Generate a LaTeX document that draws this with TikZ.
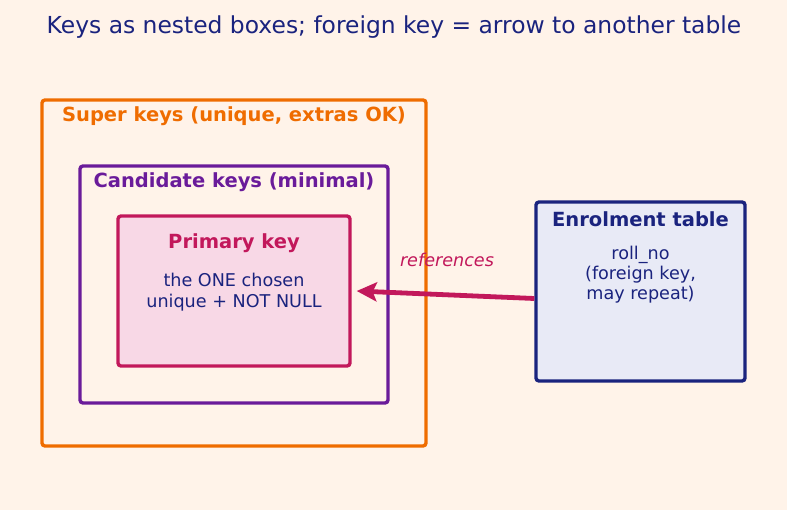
\documentclass[tikz,border=0pt]{standalone}
\usepackage{fontspec}
\setmainfont{DejaVu Sans}
\usetikzlibrary{arrows.meta,calc}
\definecolor{bg}{HTML}{FFF3E9}
\definecolor{orng}{HTML}{EF6C00}
\definecolor{purp}{HTML}{6A1B9A}
\definecolor{crim}{HTML}{C2185B}
\definecolor{navy}{HTML}{1A237E}
\definecolor{pinkfill}{HTML}{F8D8E6}
\definecolor{bluefill}{HTML}{E8EAF6}
\tikzset{
  keybox/.style={draw, line width=3.4pt, rounded corners=3pt, inner sep=0pt},
  boldlbl/.style={font=\fontsize{19.5}{23}\selectfont\bfseries, anchor=base, inner sep=0pt},
  bodytxt/.style={font=\fontsize{17.6}{20}\selectfont, text=navy, anchor=base, inner sep=0pt},
}
\begin{document}
\begin{tikzpicture}[x=1pt,y=-1pt]
\useasboundingbox[fill=bg] (0,0) rectangle (787,510);
\node[font=\fontsize{23.4}{27}\selectfont, text=navy, anchor=base, inner sep=0pt] (title) at (394,33.5) {Keys as nested boxes; foreign key = arrow to another table};

\node[keybox, draw=orng, minimum width=384pt, minimum height=346pt] (super) at (234,273) {};
\node[keybox, draw=purp, minimum width=308pt, minimum height=237pt] (cand) at (234,284.5) {};
\node[keybox, draw=crim, fill=pinkfill, minimum width=232pt, minimum height=150pt] (prim) at (234,291) {};
\node[keybox, draw=navy, fill=bluefill, minimum width=209pt, minimum height=179pt] (enrol) at (640.5,291.5) {};

\node[boldlbl, text=orng] (superlbl) at (234,121.5) {Super keys (unique, extras OK)};
\node[boldlbl, text=purp] (candlbl) at (234,187.5) {Candidate keys (minimal)};
\node[boldlbl, text=crim] (primlbl) at (234,248.5) {Primary key};
\node[bodytxt] (prim1) at (234,287) {the ONE chosen};
\node[bodytxt] (prim2) at (234,307.5) {unique + NOT NULL};

\node[boldlbl, text=navy] (enrollbl) at (640.5,227) {Enrolment table};
\node[bodytxt] (en1) at (640.5,259.5) {roll\_no};
\node[bodytxt] (en2) at (640.5,279.5) {(foreign key,};
\node[bodytxt] (en3) at (640.5,299.5) {may repeat)};

\draw[crim, line width=4.8pt, -{Stealth[length=20pt,width=19pt,inset=4pt]}]
  ($(enrol.west)+(0,7)$) -- ($(prim.east)+(5,0)$);
\node[font=\fontsize{17.6}{20}\selectfont\itshape, text=crim, anchor=base, inner sep=0pt] (reflbl) at (447,266.5) {references};
\end{tikzpicture}
\end{document}
